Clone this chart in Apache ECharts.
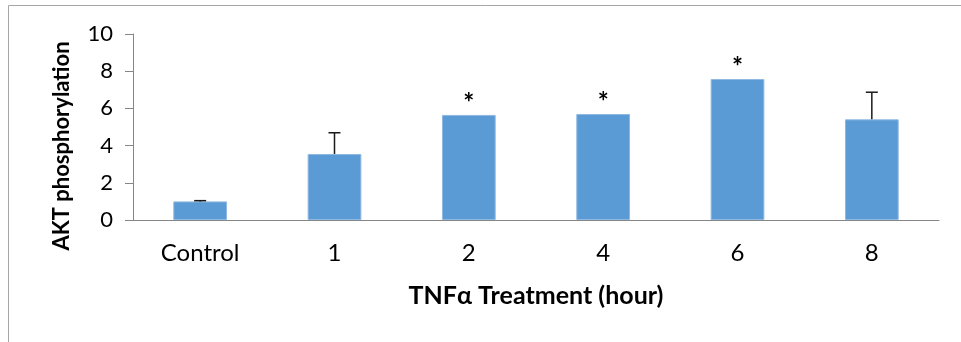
<!DOCTYPE html>
<html>
<head>
<meta charset="utf-8">
<script src="https://cdn.jsdelivr.net/npm/echarts@6/dist/echarts.min.js"></script>
<style>
html,body{margin:0;padding:0;background:#fff;}
#chart{width:961px;height:342px;}
</style>
</head>
<body>
<div id="chart"></div>
<script>
const categories = ['Control', '1', '2', '4', '6', '8'];
const values = [1.0, 3.55, 5.65, 5.70, 7.58, 5.41];
const errors = [0.04, 1.14, 0, 0, 0, 1.46];
const significant = [false, false, true, true, true, false];
const yTicks = [0, 2, 4, 6, 8, 10];

const FONT = 'Lato, "Open Sans", sans-serif';
const chart = echarts.init(document.getElementById('chart'));

const barData = values.map((v, i) => ({
  value: v,
  label: { show: significant[i] }
}));
const errData = values.map((v, i) => [i, v, errors[i]]);

chart.setOption({
  animation: false,
  backgroundColor: '#fff',
  graphic: [{
    type: 'rect',
    shape: { x: 8.5, y: 5.5, width: 1200, height: 1200 },
    style: { fill: 'none', stroke: '#a6a6a6', lineWidth: 1 },
    silent: true
  }],
  grid: { left: 133, right: 22, top: 34, bottom: 122 },
  xAxis: {
    type: 'category',
    data: categories,
    name: 'TNFα Treatment (hour)',
    nameLocation: 'middle',
    nameGap: 63,
    nameTextStyle: { fontFamily: FONT, fontSize: 25, fontWeight: 'bold', color: '#000' },
    axisLine: { lineStyle: { color: '#868686', width: 1 } },
    axisTick: { length: 8, lineStyle: { color: '#868686' } },
    axisLabel: { fontFamily: FONT, fontSize: 24, color: '#000', margin: 21 }
  },
  yAxis: {
    type: 'value',
    min: 0, max: 10, interval: 2,
    name: 'AKT phosphorylation',
    nameLocation: 'middle',
    nameRotate: 90,
    nameGap: 60,
    nameTextStyle: { fontFamily: FONT, fontSize: 22, fontWeight: 'bold', color: '#000', padding: [0, 38, 0, 0] },
    axisLine: { show: true, lineStyle: { color: '#868686', width: 1 } },
    axisTick: { show: true, length: 8, lineStyle: { color: '#868686' } },
    splitLine: { show: false },
    axisLabel: {
      fontFamily: FONT, fontSize: 22, color: '#000', margin: 20,
      formatter: v => yTicks.includes(v) ? String(v) : ''
    }
  },
  series: [{
    type: 'bar',
    data: barData,
    barWidth: '40%',
    itemStyle: { color: '#5b9bd5', borderColor: '#8fb8e2', borderWidth: 1 },
    label: {
      position: 'top',
      distance: -2,
      formatter: '*',
      fontFamily: FONT,
      fontSize: 26,
      fontWeight: 'bold',
      color: '#000'
    }
  }, {
    type: 'custom',
    data: errData,
    z: 10,
    renderItem: function (params, api) {
      const i = api.value(0), v = api.value(1), e = api.value(2);
      if (!e) return null;
      const base = api.coord([i, v]);
      const top = api.coord([i, v + e]);
      const half = 6;
      const st = { stroke: '#1a1a1a', lineWidth: 1.5 };
      return {
        type: 'group',
        children: [
          { type: 'line', shape: { x1: base[0], y1: base[1], x2: top[0], y2: top[1] }, style: st },
          { type: 'line', shape: { x1: top[0] - half, y1: top[1], x2: top[0] + half, y2: top[1] }, style: st }
        ]
      };
    }
  }]
});
</script>
</body>
</html>
